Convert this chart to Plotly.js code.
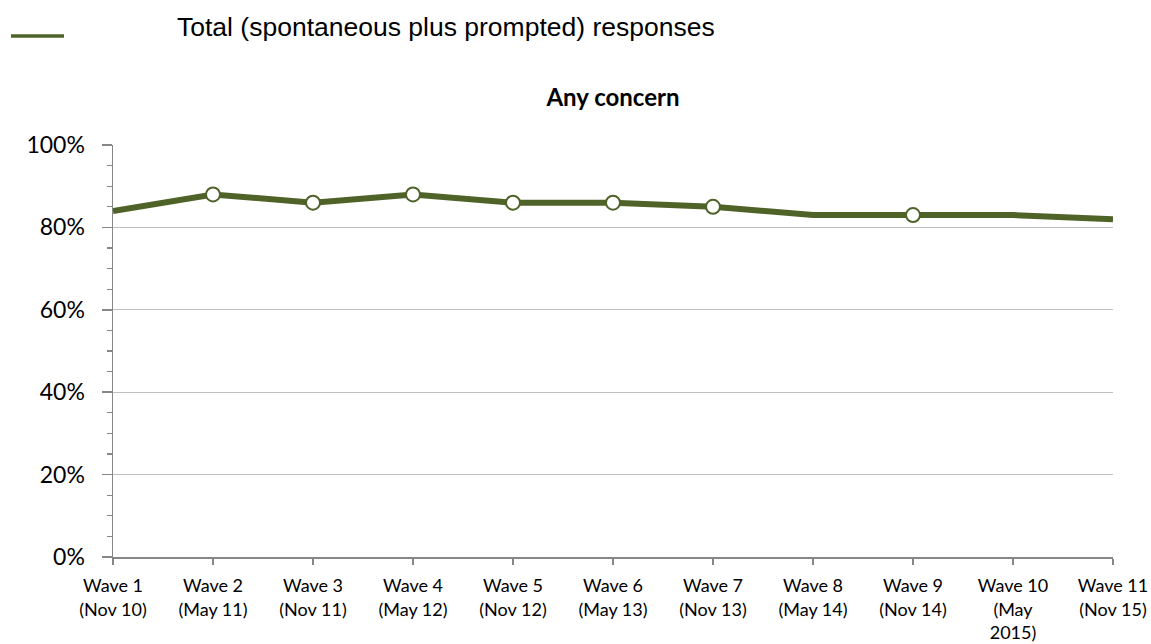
<!DOCTYPE html>
<html>
<head>
<meta charset="utf-8">
<script src="https://cdn.plot.ly/plotly-3.0.1.min.js"></script>
<style>
  html, body { margin: 0; padding: 0; background: #ffffff; }
  #chart { width: 1151px; height: 644px; }
</style>
</head>
<body>
<div id="chart"></div>
<script>
// ---- Data ----
const waveLabels = [
  'Wave 1<br>(Nov 10)', 'Wave 2<br>(May 11)', 'Wave 3<br>(Nov 11)', 'Wave 4<br>(May 12)',
  'Wave 5<br>(Nov 12)', 'Wave 6<br>(May 13)', 'Wave 7<br>(Nov 13)', 'Wave 8<br>(May 14)',
  'Wave 9<br>(Nov 14)', 'Wave 10<br>(May<br>2015)', 'Wave 11<br>(Nov 15)'
];
const anyConcern = [0.84, 0.88, 0.86, 0.88, 0.86, 0.86, 0.85, 0.83, 0.83, 0.83, 0.82];
const hasMarker = [false, true, true, true, true, true, true, false, true, false, false];
const seriesName = 'Total (spontaneous plus prompted) responses';
const chartTitle = 'Any concern';
const yTickVals = [0, 0.2, 0.4, 0.6, 0.8, 1.0];

// ---- Layout constants ----
const W = 1151, H = 644;
const M = { l: 113, r: 38, t: 145, b: 87 };
const plotW = W - M.l - M.r, plotH = H - M.t - M.b;
const px2x = p => (p - M.l) / plotW;
const py2y = p => (H - M.b - p) / plotH;

const olive = '#4F6228';
const calibri = 'Lato, "Open Sans", sans-serif';

const trace = {
  type: 'scatter',
  mode: 'lines+markers',
  name: seriesName,
  x: waveLabels,
  y: anyConcern,
  line: { color: olive, width: 6 },
  marker: {
    size: hasMarker.map(m => m ? 14 : 0),
    color: '#ffffff',
    opacity: 1,
    line: { color: olive, width: 2 }
  },
  hoverinfo: 'skip',
  showlegend: false
};

const layout = {
  width: W, height: H,
  margin: M,
  paper_bgcolor: '#ffffff',
  plot_bgcolor: '#ffffff',
  showlegend: false,
  title: {
    text: '<b>' + chartTitle + '</b>',
    font: { family: calibri, size: 24, color: '#000000' },
    x: 0.5, xref: 'paper',
    y: 1 - 98 / H, yref: 'container', yanchor: 'middle'
  },
  xaxis: {
    type: 'category',
    range: [0, waveLabels.length - 1],
    showgrid: false,
    zeroline: false,
    showline: true,
    linecolor: '#868686',
    linewidth: 1.5,
    ticks: 'outside',
    ticklen: 6,
    tickwidth: 1.5,
    tickcolor: '#868686',
    ticklabelstandoff: 6,
    tickfont: { family: calibri, size: 18, color: '#000000' },
    fixedrange: true
  },
  yaxis: {
    range: [0, 1],
    tickvals: yTickVals,
    tickformat: '.0%',
    showgrid: true,
    gridcolor: '#C0C0C0',
    gridwidth: 1,
    zeroline: false,
    showline: true,
    linecolor: '#868686',
    linewidth: 1.5,
    ticks: 'outside',
    ticklen: 10,
    tickwidth: 1.5,
    tickcolor: '#868686',
    ticklabelstandoff: 12,
    tickfont: { family: calibri, size: 23, color: '#000000' },
    minor: {
      dtick: 0.05,
      ticks: 'outside',
      ticklen: 5,
      tickwidth: 1.2,
      tickcolor: '#868686',
      showgrid: false
    },
    fixedrange: true
  },
  shapes: [{
    type: 'line', xref: 'paper', yref: 'paper',
    x0: px2x(11), x1: px2x(64), y0: py2y(36), y1: py2y(36),
    line: { color: olive, width: 3.5 }
  }],
  annotations: [{
    text: seriesName,
    xref: 'paper', yref: 'paper',
    x: px2x(175), y: py2y(27),
    xanchor: 'left', yanchor: 'middle',
    showarrow: false,
    font: { family: '"Liberation Sans", Arial, sans-serif', size: 26.5, color: '#000000' }
  }]
};

Plotly.newPlot('chart', [trace], layout, { displayModeBar: false, staticPlot: true });
</script>
</body>
</html>
